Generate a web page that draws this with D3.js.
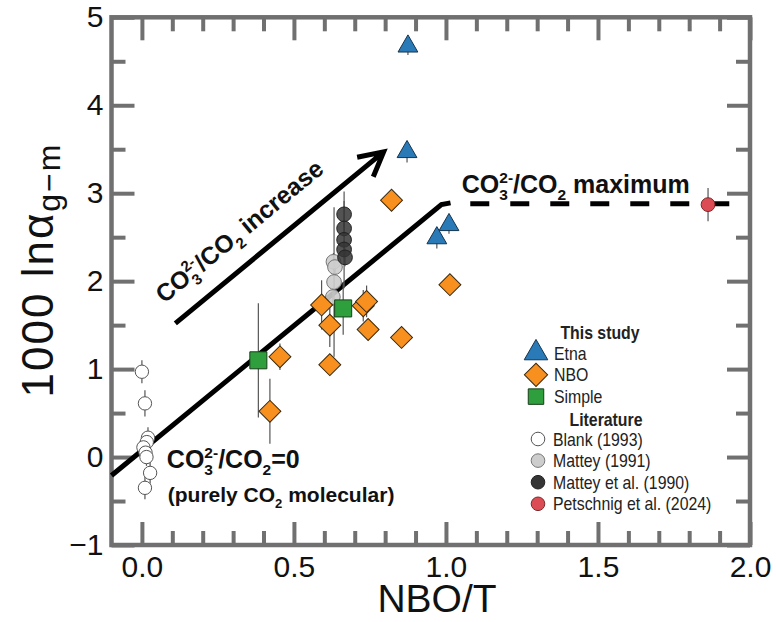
<!DOCTYPE html>
<html>
<head>
<meta charset="utf-8">
<script src="https://cdn.jsdelivr.net/npm/d3@7"></script>
<style>
  body { margin: 0; background: #fff; }
  svg { display: block; font-family: "Liberation Sans", Arial, Helvetica, sans-serif; }
</style>
</head>
<body>
<svg id="chart" width="776" height="622"></svg>
<script>
// ---- this study ----
const etnaX = [0.875, 0.872, 1.010, 0.970];
const etnaY = [4.67, 3.47, 2.64, 2.49];
const etnaErr = [0.1, 0.12, 0.1, 0.12];

const nboX = [0.821, 1.013, 0.591, 0.728, 0.739, 0.618, 0.744, 0.854, 0.454, 0.618, 0.421];
const nboY = [2.92, 1.96, 1.73, 1.72, 1.77, 1.50, 1.45, 1.36, 1.14, 1.05, 0.52];
const nboErr = [0, 0, 0.28, 0.18, 0.18, 0.25, 0.12, 0, 0.15, 0, 0.37];

const simpleX = [0.383, 0.662];
const simpleY = [1.10, 1.69];
const simpleErr = [0.65, 0.3];

// ---- literature ----
const blankX = [0.0, 0.01, 0.02, 0.016, 0.005, 0.012, 0.015, 0.027, 0.01];
const blankY = [0.97, 0.61, 0.22, 0.17, 0.11, 0.05, 0.0, -0.18, -0.35];
const blankErr = [0.13, 0.15, 0.12, 0.1, 0.1, 0.1, 0.1, 0.12, 0.13];

const mattey91X = [0.630, 0.635, 0.632, 0.628];
const mattey91Y = [2.22, 2.16, 1.99, 1.82];
const mattey91Err = [0.1, 0.1, 0.85, 0.1];

const mattey90X = [0.665, 0.665, 0.665, 0.665, 0.668];
const mattey90Y = [2.76, 2.60, 2.47, 2.36, 2.27];
const mattey90Err = [0.15, 0.1, 0.55, 0.1, 0.1];

const petschnigX = [1.862];
const petschnigY = [2.87];
const petschnigErr = [0.19];

// ---- model lines and arrow ----
const solidX = [-0.1, 0.985, 1.015];
const solidY = [-0.21, 2.87, 2.89];
const dashX = [1.08, 2.0];
const dashY = [2.88, 2.88];
const arrowX = [0.11, 0.795];
const arrowY = [1.52, 3.47];

// ---- axes ----
const xTicks = [0, 0.5, 1.0, 1.5, 2.0];
const yTicks = [-1, 0, 1, 2, 3, 4, 5];

const legendStudy = ['Etna', 'NBO', 'Simple'];
const legendLit = ['Blank (1993)', 'Mattey (1991)', 'Mattey et al. (1990)', 'Petschnig et al. (2024)'];

function whenDocumentLoaded(action) {
  if (document.readyState === "loading") {
    document.addEventListener("DOMContentLoaded", action);
  } else {
    action();
  }
}

// text with CO3 2- style sub/superscripts; a sup right after a sub is stacked over it
function richText(t, parts, size) {
  let shift = 0, prev = null;
  parts.forEach(([s, kind]) => {
    const target = kind === 'sub' ? 0.28 * size : kind === 'sup' ? -0.42 * size : 0;
    const ts = t.append('tspan').text(s).attr('dy', target - shift);
    if (kind) ts.style('font-size', (0.62 * size) + 'px');
    if (kind === 'sup' && prev === 'sub') ts.attr('dx', -0.556 * 0.62 * size);
    shift = target;
    prev = kind;
  });
}

whenDocumentLoaded(() => {
  const svg = d3.select('#chart');
  const spine = '#707070';

  const x = d3.scaleLinear().domain([-0.1, 2.0]).range([111.5, 750]);
  const y = d3.scaleLinear().domain([-1, 5]).range([545, 17.3]);

  const xMinor = d3.range(1, 20).map(i => i / 10).filter(v => !xTicks.some(t => Math.abs(t - v) < 1e-6));
  const yMinor = d3.range(-1, 5, 1).map(v => v + 0.5);

  function styleAxis(g, labels) {
    g.select('.domain').remove();
    g.selectAll('line').attr('stroke', spine).attr('stroke-width', 4);
    if (!labels) g.selectAll('text').remove();
    else g.selectAll('text').attr('fill', '#111').style('font-size', '30px').style('font-family', 'inherit');
  }

  // major and minor ticks on all four sides, pointing inward
  const axes = [
    [d3.axisBottom(x).tickValues(xTicks).tickSize(-23).tickPadding(11).tickFormat(d3.format('.1f')), `translate(0,${y(-1)})`, true],
    [d3.axisBottom(x).tickValues(xMinor).tickSize(-14), `translate(0,${y(-1)})`, false],
    [d3.axisTop(x).tickValues(xTicks).tickSize(-23), `translate(0,${y(5)})`, false],
    [d3.axisTop(x).tickValues(xMinor).tickSize(-14), `translate(0,${y(5)})`, false],
    [d3.axisLeft(y).tickValues(yTicks).tickSize(-23).tickPadding(8).tickFormat(d3.format('d')), `translate(${x(-0.1)},0)`, true],
    [d3.axisLeft(y).tickValues(yMinor).tickSize(-14), `translate(${x(-0.1)},0)`, false],
    [d3.axisRight(y).tickValues(yTicks).tickSize(-23), `translate(${x(2.0)},0)`, false],
    [d3.axisRight(y).tickValues(yMinor).tickSize(-14), `translate(${x(2.0)},0)`, false]
  ];
  axes.forEach(([ax, tr, labels]) => {
    svg.append('g').attr('transform', tr).call(ax).call(g => styleAxis(g, labels));
  });

  svg.append('rect')
     .attr('x', x(-0.1)).attr('y', y(5))
     .attr('width', x(2.0) - x(-0.1)).attr('height', y(-1) - y(5))
     .attr('fill', 'none').attr('stroke', spine).attr('stroke-width', 4.5);

  // axis titles
  svg.append('text')
     .attr('x', 437).attr('y', 612)
     .attr('text-anchor', 'middle').attr('fill', '#111')
     .style('font-size', '39px').text('NBO/T');

  const yt = svg.append('text')
     .attr('transform', `translate(53,270) rotate(-90)`)
     .attr('text-anchor', 'middle').attr('fill', '#111')
     .style('font-size', '44px').style('letter-spacing', '2px');
  yt.append('tspan').text('1000 lnα');
  yt.append('tspan').attr('dy', 7).style('font-size', '32px').text('g\u2212m');

  // model line
  const line = d3.line().x(d => x(d[0])).y(d => y(d[1]));
  svg.append('path')
     .attr('d', line(d3.zip(solidX, solidY)))
     .attr('fill', 'none').attr('stroke', '#000').attr('stroke-width', 5);
  svg.append('path')
     .attr('d', line(d3.zip(dashX, dashY)))
     .attr('fill', 'none').attr('stroke', '#000').attr('stroke-width', 5)
     .attr('stroke-dasharray', '19 21');

  // arrow
  const ax0 = x(arrowX[0]), ay0 = y(arrowY[0]), ax1 = x(arrowX[1]), ay1 = y(arrowY[1]);
  const ang = Math.atan2(ay1 - ay0, ax1 - ax0);
  const head = 27, spread = 28 * Math.PI / 180;
  const arm = s => [ax1 - head * Math.cos(ang + s), ay1 - head * Math.sin(ang + s)];
  const p = d3.path();
  p.moveTo(ax0, ay0); p.lineTo(ax1, ay1);
  const a1 = arm(spread), a2 = arm(-spread);
  p.moveTo(a1[0], a1[1]); p.lineTo(ax1, ay1); p.lineTo(a2[0], a2[1]);
  svg.append('path').attr('d', p.toString())
     .attr('fill', 'none').attr('stroke', '#000').attr('stroke-width', 5)
     .attr('stroke-linejoin', 'miter');

  // arrow label, placed along the arrow and just above it
  const len = Math.hypot(ax1 - ax0, ay1 - ay0);
  const ux = (ax1 - ax0) / len, uy = (ay1 - ay0) / len;
  const mx = ax0 + 0.4 * len * ux + 22 * uy, my = ay0 + 0.4 * len * uy - 22 * ux;
  const at = svg.append('text')
     .attr('transform', `translate(${mx},${my}) rotate(${ang * 180 / Math.PI})`)
     .attr('text-anchor', 'middle').attr('font-weight', 'bold').attr('fill', '#111')
     .style('font-size', '24.5px');
  richText(at, [['CO'], ['3', 'sub'], ['2-', 'sup'], ['/CO'], ['2', 'sub'], [' increase']], 24.5);

  const mt = svg.append('text')
     .attr('x', x(1.052)).attr('y', y(3.0))
     .attr('font-weight', 'bold').attr('fill', '#111').style('font-size', '25px');
  richText(mt, [['CO'], ['3', 'sub'], ['2-', 'sup'], ['/CO'], ['2', 'sub'], [' maximum']], 25);

  const zt = svg.append('text')
     .attr('x', x(0.082)).attr('y', y(-0.13))
     .attr('font-weight', 'bold').attr('fill', '#111').style('font-size', '25px');
  richText(zt, [['CO'], ['3', 'sub'], ['2-', 'sup'], ['/CO'], ['2', 'sub'], ['=0']], 25);

  const pt = svg.append('text')
     .attr('x', x(0.085)).attr('y', y(-0.51))
     .attr('font-weight', 'bold').attr('fill', '#111').style('font-size', '21px');
  richText(pt, [['(purely CO'], ['2', 'sub'], [' molecular)']], 21);

  // series
  const series = [
    { xs: blankX, ys: blankY, err: blankErr, shape: d3.symbolCircle, size: 140, fill: '#fff', stroke: '#555', op: 1 },
    { xs: mattey91X, ys: mattey91Y, err: mattey91Err, shape: d3.symbolCircle, size: 170, fill: '#cdcdcd', stroke: '#777', op: 0.9 },
    { xs: mattey90X, ys: mattey90Y, err: mattey90Err, shape: d3.symbolCircle, size: 170, fill: '#353535', stroke: '#222', op: 0.85 },
    { xs: petschnigX, ys: petschnigY, err: petschnigErr, shape: d3.symbolCircle, size: 150, fill: '#dc4c55', stroke: '#7a2a2a', op: 1 },
    { xs: nboX, ys: nboY, err: nboErr, shape: d3.symbolSquare, size: 240, rot: 45, fill: '#f7901e', stroke: '#3a2a10', op: 1 },
    { xs: simpleX, ys: simpleY, err: simpleErr, shape: d3.symbolSquare, size: 290, fill: '#2f9e3c', stroke: '#173f1a', op: 1 },
    { xs: etnaX, ys: etnaY, err: etnaErr, shape: d3.symbolTriangle, size: 170, fill: '#2a7ab8', stroke: '#13344f', op: 1 }
  ];

  const bars = svg.append('g');
  series.forEach(s => {
    bars.selectAll(null)
        .data(d3.range(s.xs.length).filter(i => s.err[i] > 0))
        .enter().append('line')
        .attr('x1', i => x(s.xs[i])).attr('x2', i => x(s.xs[i]))
        .attr('y1', i => y(s.ys[i] - s.err[i])).attr('y2', i => y(s.ys[i] + s.err[i]))
        .attr('stroke', '#555').attr('stroke-width', 1.2);
  });

  series.forEach(s => {
    svg.append('g').selectAll('path')
       .data(d3.range(s.xs.length))
       .enter().append('path')
       .attr('d', d3.symbol().type(s.shape).size(s.size))
       .attr('transform', i => `translate(${x(s.xs[i])},${y(s.ys[i])})` + (s.rot ? ` rotate(${s.rot})` : ''))
       .attr('fill', s.fill).attr('fill-opacity', s.op)
       .attr('stroke', s.stroke).attr('stroke-width', 1);
  });

  // legend; the reference uses a narrow face, so text is squeezed a little
  const leg = svg.append('g').attr('fill', '#222').style('font-size', '18px');
  const legText = (tx, ty, str, anchor) => leg.append('text')
     .attr('transform', `translate(${tx},${ty}) scale(0.88,1)`)
     .attr('text-anchor', anchor || 'start').text(str);
  legText(600, 339, 'This study', 'middle').attr('font-weight', 'bold');
  const studyStyle = [series[6], series[4], series[5]];
  legendStudy.forEach((name, i) => {
    const cy = 353 + i * 21.8;
    const s = studyStyle[i];
    leg.append('path')
       .attr('d', d3.symbol().type(s.shape).size(s.shape === d3.symbolSquare && s.rot ? 270 : 240))
       .attr('transform', `translate(536,${cy})` + (s.rot ? ' rotate(45)' : ''))
       .attr('fill', s.fill).attr('stroke', s.stroke).attr('stroke-width', 1);
    legText(554, cy + 6.5, name);
  });
  legText(606, 426, 'Literature', 'middle').attr('font-weight', 'bold');
  const litStyle = [series[0], series[1], series[2], series[3]];
  legendLit.forEach((name, i) => {
    const cy = 439 + i * 21.6;
    const s = litStyle[i];
    leg.append('circle').attr('cx', 538).attr('cy', cy).attr('r', 6.8)
       .attr('fill', s.fill).attr('stroke', s.stroke).attr('stroke-width', 1);
    legText(553, cy + 6.5, name);
  });
});
</script>
</body>
</html>
